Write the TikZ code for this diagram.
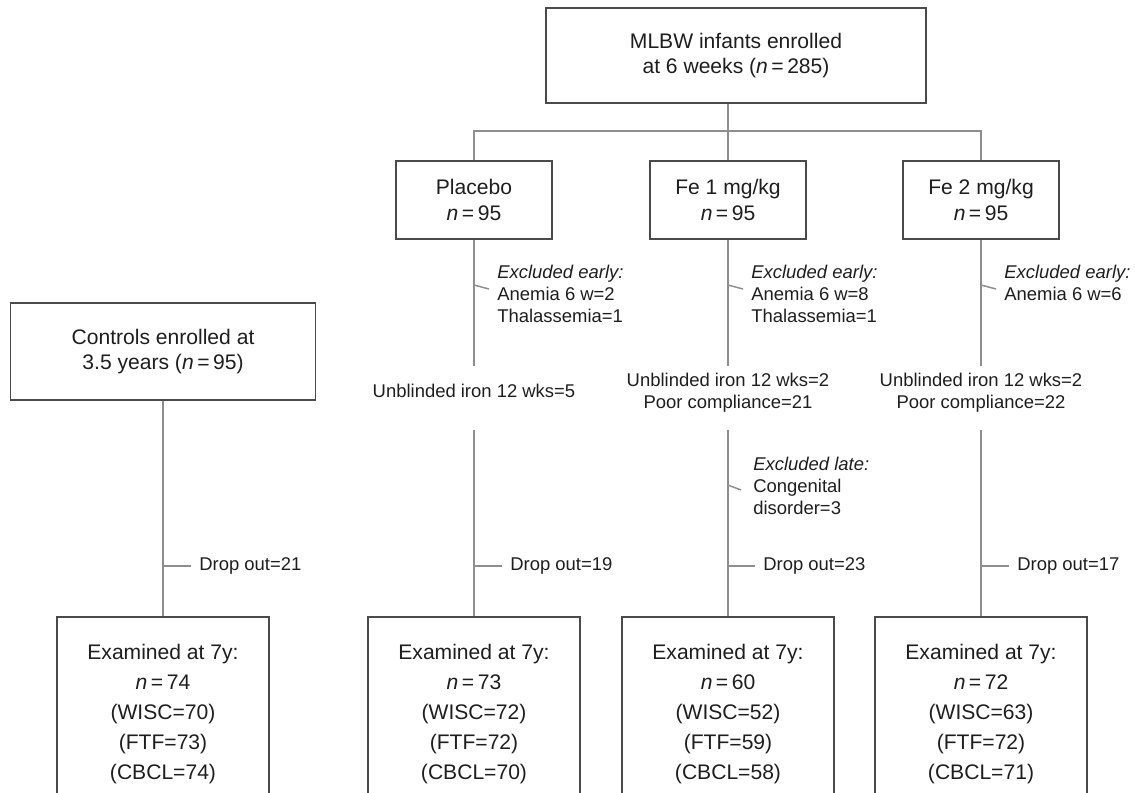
\documentclass[tikz,border=0pt]{standalone}
\usepackage{fontspec}
\setmainfont{Liberation Sans}
\usepackage{tikz}
\usetikzlibrary{positioning}

\definecolor{boxgray}{HTML}{4A4A4A}
\definecolor{linegray}{HTML}{8E8E8E}
\definecolor{txt}{HTML}{1E1E1E}

\tikzset{
	box/.style={draw=boxgray, line width=1.1pt, align=center, inner sep=0pt, text=txt},
	armbox/.style={box, minimum width=3.13cm, minimum height=1.56cm, font=\fontsize{12}{14.8}\selectfont},
	endbox/.style={box, anchor=north, minimum width=4.24cm, inner ysep=0.55cm, font=\fontsize{12}{17.1}\selectfont},
	link/.style={draw=linegray, line width=0.85pt},
	note/.style={inner sep=0pt, text=txt, font=\fontsize{10.5}{12.6}\selectfont}
}

\newcommand{\nn}[1]{\textit{n}\,=\,#1}

\begin{document}
\begin{tikzpicture}[x=0.02cm, y=-0.02cm]
	\useasboundingbox (0,0) rectangle (1135,792);
	\clip (0,0) rectangle (1135,792);

	\node[box, minimum width=7.6cm, minimum height=1.9cm, font=\fontsize{12}{14.2}\selectfont] (top) at (736,55.5) {MLBW infants enrolled\\at 6 weeks (\nn{285})};

	\node[armbox] (placebo) at (474,200) {Placebo\\\nn{95}};
	\node[armbox] (feone) at (728,200) {Fe 1 mg/kg\\\nn{95}};
	\node[armbox] (fetwo) at (981,200) {Fe 2 mg/kg\\\nn{95}};

	\node[box, minimum width=6.1cm, minimum height=1.94cm, font=\fontsize{12}{14.2}\selectfont] (controls) at (163,351.5) {Controls enrolled at\\3.5 years (\nn{95})};

	\coordinate (split) at (728,131);
	\draw[link] (top.south -| split) -- (feone.north);
	\draw[link] (placebo.north) |- (split) -| (fetwo.north);

	\foreach \nm/\xv/\nv/\wv/\fv/\cv in {ctrlout/163/74/70/73/74, plout/474/73/72/72/70, faout/728/60/52/59/58, fbout/981/72/63/72/71}
		\node[endbox] (\nm) at (\xv,616) {Examined at 7y:\\\nn{\nv}\\(WISC=\wv)\\(FTF=\fv)\\(CBCL=\cv)};

	\draw[link] (controls.south) -- (ctrlout.north);

	\foreach \c/\o/\xv in {placebo/plout/474, feone/faout/728, fetwo/fbout/981}{
		\coordinate[below=2.52cm of \c] (\c-a);
		\coordinate[below=3.8cm of \c] (\c-b);
		\draw[link] (\c.south) -- (\c-a);
		\draw[link] (\c-b) -- (\o.north);
		\coordinate (\c-e) at (\xv,285);
		\coordinate (\c-f) at (\xv+15,289);
		\draw[link] (\c-e) -- (\c-f);
	}

	\node[note, anchor=north west, align=left] (placebo-ex) at (497,264.5) {\textit{Excluded early:}\\Anemia 6 w=2\\Thalassemia=1};
	\node[note, anchor=north west, align=left] (feone-ex) at (751,264.5) {\textit{Excluded early:}\\Anemia 6 w=8\\Thalassemia=1};
	\node[note, anchor=north west, align=left] (fetwo-ex) at (1004,264.5) {\textit{Excluded early:}\\Anemia 6 w=6};

	\node[note, anchor=base] (placebo-ub) at (474,397) {Unblinded iron 12 wks=5};
	\node[note, anchor=north, align=center] (feone-ub) at (728,372.5) {Unblinded iron 12 wks=2\\Poor compliance=21};
	\node[note, anchor=north, align=center] (fetwo-ub) at (981,372.5) {Unblinded iron 12 wks=2\\Poor compliance=22};

	\coordinate (feone-l) at (728,485);
	\coordinate (feone-m) at (741,490);
	\draw[link] (feone-l) -- (feone-m);
	\node[note, anchor=north west, align=left] (feone-late) at (753,456.5) {\textit{Excluded late:}\\Congenital\\disorder=3};

	\node[note, anchor=west] (ctrl-drop) at (199,566) {Drop out=21};
	\node[note, anchor=west] (placebo-drop) at (510,566) {Drop out=19};
	\node[note, anchor=west] (feone-drop) at (763,566) {Drop out=23};
	\node[note, anchor=west] (fetwo-drop) at (1017,566) {Drop out=17};
	\foreach \d/\o in {ctrl-drop/ctrlout, placebo-drop/plout, feone-drop/faout, fetwo-drop/fbout}
		\draw[link, shorten >=0.16cm] (\o.north |- \d.west) -- (\d.west);
\end{tikzpicture}
\end{document}
